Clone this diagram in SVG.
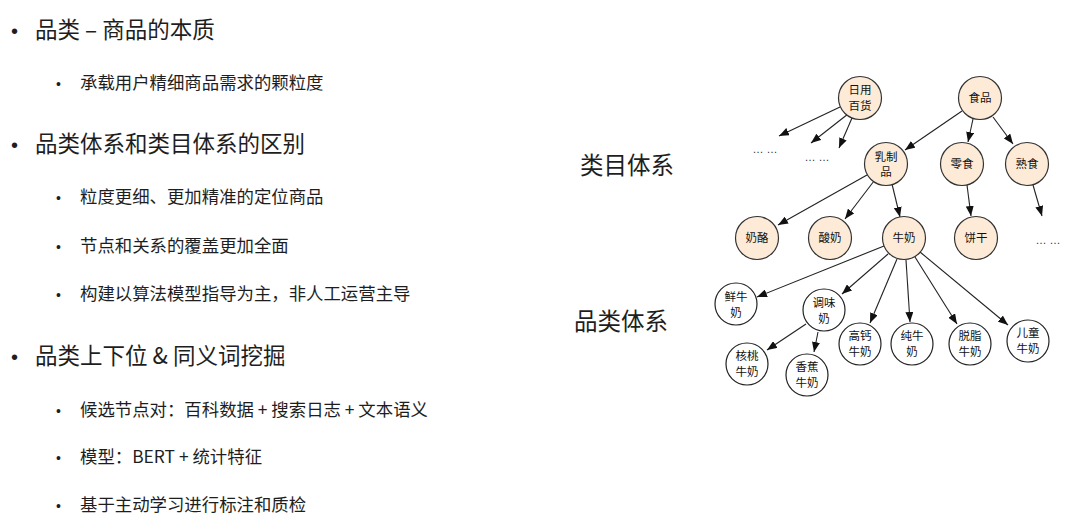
<svg xmlns="http://www.w3.org/2000/svg" width="1080" height="529" viewBox="0 0 1080 529">
<style>
.h{font-family:"Noto Sans CJK SC","Liberation Sans",sans-serif;font-size:22.5px;fill:#1e1e1e}
.s{font-family:"Noto Sans CJK SC","Liberation Sans",sans-serif;font-size:17.4px;fill:#1e1e1e}
.b{font-family:"Liberation Sans",sans-serif;fill:#1e1e1e}
.lab{font-family:"Noto Sans CJK SC",sans-serif;font-size:23.5px;fill:#1e1e1e}
.nt{font-family:"Noto Sans CJK SC",sans-serif;font-size:11.5px;fill:#111;text-anchor:middle}
.dots{font-family:"Liberation Sans",sans-serif;font-size:11px;fill:#333;text-anchor:middle}
.tan{fill:#fdebd7;stroke:#333;stroke-width:1.2}
.wh{fill:#fff;stroke:#222;stroke-width:1.2}
.e line{stroke:#222;stroke-width:1.1;marker-end:url(#ah)}
</style>
<defs>
<marker id="ah" markerUnits="userSpaceOnUse" markerWidth="10" markerHeight="8" refX="10" refY="4" orient="auto">
<path d="M0,0 L10,4 L0,8 z" fill="#111"/>
</marker>
</defs>
<rect width="1080" height="529" fill="#fff"/>

<g id="text-left">
<text class="b" x="11" y="38" font-size="20">•</text>
<text class="h" x="35" y="38">品类 – 商品的本质</text>
<text class="b" x="56" y="89" font-size="14">•</text>
<text class="s" x="80" y="89">承载用户精细商品需求的颗粒度</text>
<text class="b" x="11" y="152" font-size="20">•</text>
<text class="h" x="35" y="152">品类体系和类目体系的区别</text>
<text class="b" x="56" y="203" font-size="14">•</text>
<text class="s" x="80" y="203">粒度更细、更加精准的定位商品</text>
<text class="b" x="56" y="252" font-size="14">•</text>
<text class="s" x="80" y="252">节点和关系的覆盖更加全面</text>
<text class="b" x="56" y="300" font-size="14">•</text>
<text class="s" x="80" y="300">构建以算法模型指导为主，非人工运营主导</text>
<text class="b" x="11" y="364" font-size="20">•</text>
<text class="h" x="35" y="364">品类上下位 &amp; 同义词挖掘</text>
<text class="b" x="56" y="416" font-size="14">•</text>
<text class="s" x="80" y="416">候选节点对：百科数据 + 搜索日志 + 文本语义</text>
<text class="b" x="56" y="463" font-size="14">•</text>
<text class="s" x="80" y="463">模型：BERT + 统计特征</text>
<text class="b" x="56" y="511" font-size="14">•</text>
<text class="s" x="80" y="511">基于主动学习进行标注和质检</text>
</g>

<text class="lab" x="580" y="173.5">类目体系</text>
<text class="lab" x="574" y="330">品类体系</text>

<g id="connectors" class="e">
<line x1="840" y1="107" x2="779" y2="136"/>
<line x1="848" y1="114" x2="811" y2="143"/>
<line x1="852" y1="118" x2="839" y2="148"/>
<line x1="962" y1="111" x2="905" y2="150"/>
<line x1="973" y1="119" x2="968" y2="142"/>
<line x1="993" y1="117" x2="1013" y2="144"/>
<line x1="867" y1="175" x2="778" y2="225"/>
<line x1="874" y1="181" x2="845" y2="219"/>
<line x1="892" y1="184" x2="900" y2="217"/>
<line x1="967" y1="185" x2="971" y2="216"/>
<line x1="1033" y1="185" x2="1042" y2="216"/>
<line x1="884" y1="246" x2="757" y2="297"/>
<line x1="888" y1="254" x2="842" y2="294"/>
<line x1="897" y1="259" x2="870" y2="323"/>
<line x1="906" y1="260" x2="910" y2="322"/>
<line x1="915" y1="257" x2="957" y2="324"/>
<line x1="920" y1="252" x2="1008" y2="325"/>
<line x1="806" y1="324" x2="767" y2="350"/>
<line x1="818" y1="332" x2="814" y2="352"/>
</g>

<g id="dots">
<text class="dots" x="765" y="153">… …</text>
<text class="dots" x="817" y="161">… …</text>
<text class="dots" x="1048" y="244">… …</text>
</g>

<g id="n-riyong"><circle class="tan" cx="860" cy="98" r="21.5"/><text class="nt" x="860" y="94">日用</text><text class="nt" x="860" y="110">百货</text></g>
<g id="n-shipin"><circle class="tan" cx="980" cy="98" r="21.5"/><text class="nt" x="980" y="102">食品</text></g>
<g id="n-ruzhipin"><circle class="tan" cx="886" cy="164" r="21.5"/><text class="nt" x="886" y="161">乳制</text><text class="nt" x="886" y="176">品</text></g>
<g id="n-lingshi"><circle class="tan" cx="962" cy="164" r="21.5"/><text class="nt" x="962" y="168">零食</text></g>
<g id="n-shushi"><circle class="tan" cx="1027" cy="164" r="21.5"/><text class="nt" x="1027" y="168">熟食</text></g>
<g id="n-nailao"><circle class="tan" cx="757" cy="238" r="21.5"/><text class="nt" x="757" y="242">奶酪</text></g>
<g id="n-suannai"><circle class="tan" cx="830" cy="238" r="21.5"/><text class="nt" x="830" y="242">酸奶</text></g>
<g id="n-niunai"><circle class="tan" cx="904" cy="238" r="21.5"/><text class="nt" x="904" y="242">牛奶</text></g>
<g id="n-binggan"><circle class="tan" cx="976" cy="238" r="21.5"/><text class="nt" x="976" y="242">饼干</text></g>

<g id="n-xianniunai"><circle class="wh" cx="736" cy="304" r="21"/><text class="nt" x="736" y="301">鲜牛</text><text class="nt" x="736" y="317">奶</text></g>
<g id="n-tiaoweinai"><circle class="wh" cx="824" cy="310" r="21"/><text class="nt" x="824" y="307">调味</text><text class="nt" x="824" y="323">奶</text></g>
<g id="n-gaogai"><circle class="wh" cx="860" cy="344" r="21"/><text class="nt" x="860" y="340">高钙</text><text class="nt" x="860" y="356">牛奶</text></g>
<g id="n-chun"><circle class="wh" cx="912" cy="344" r="21"/><text class="nt" x="912" y="340">纯牛</text><text class="nt" x="912" y="356">奶</text></g>
<g id="n-tuozhi"><circle class="wh" cx="970" cy="344" r="21"/><text class="nt" x="970" y="340">脱脂</text><text class="nt" x="970" y="356">牛奶</text></g>
<g id="n-ertong"><circle class="wh" cx="1028" cy="341" r="21"/><text class="nt" x="1028" y="337">儿童</text><text class="nt" x="1028" y="353">牛奶</text></g>
<g id="n-hetao"><circle class="wh" cx="747" cy="364" r="21"/><text class="nt" x="747" y="360">核桃</text><text class="nt" x="747" y="376">牛奶</text></g>
<g id="n-xiangjiao"><circle class="wh" cx="807" cy="375" r="21"/><text class="nt" x="807" y="371">香蕉</text><text class="nt" x="807" y="387">牛奶</text></g>
</svg>
